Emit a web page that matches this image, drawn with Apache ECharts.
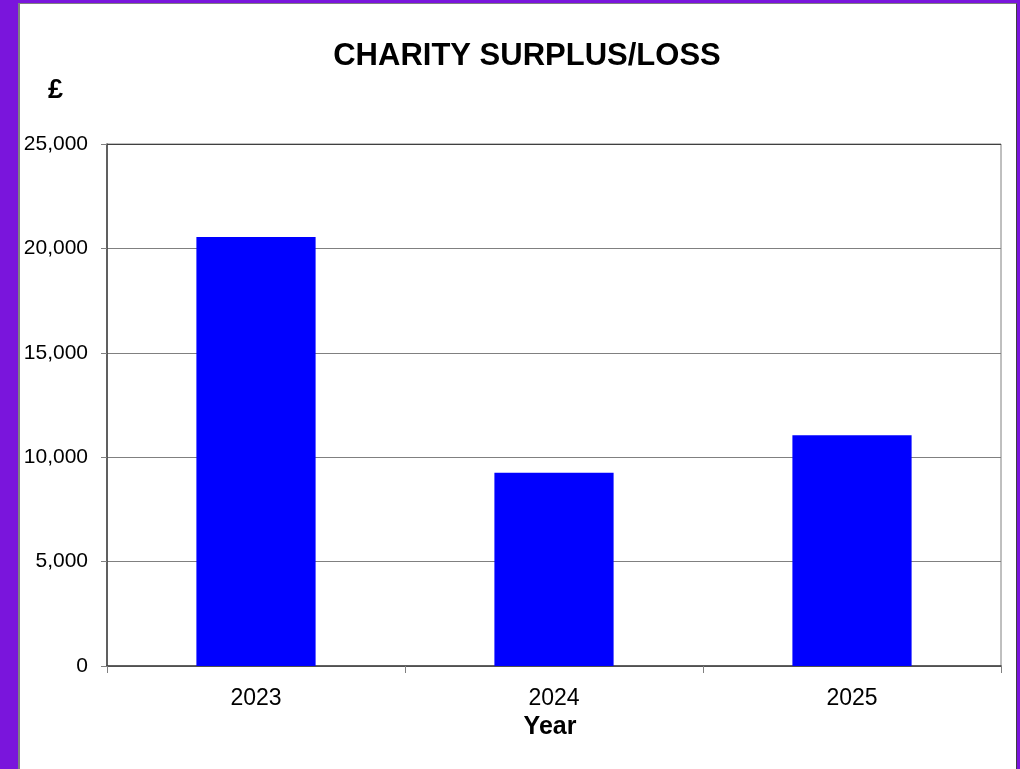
<!DOCTYPE html>
<html>
<head>
<meta charset="utf-8">
<script src="https://cdn.jsdelivr.net/npm/echarts@6/dist/echarts.min.js"></script>
<style>
html,body{margin:0;padding:0;width:1020px;height:769px;overflow:hidden;background:#7a15dc;}
#panel{position:absolute;left:18px;top:3px;width:996px;height:780px;background:#fff;border-left:2px solid #808080;border-top:1px solid #808080;border-right:1px solid #404040;}
#chart{position:absolute;left:0;top:0;width:1020px;height:769px;}
</style>
</head>
<body>
<div id="panel"></div>
<div id="chart"></div>
<script>
const categories = ['2023', '2024', '2025'];
const surplus = [20550, 9250, 11050];
const yTicks = [0, 5000, 10000, 15000, 20000, 25000];

const chart = echarts.init(document.getElementById('chart'));
const font = '"Liberation Sans", Arial, sans-serif';
chart.setOption({
  backgroundColor: 'transparent',
  animation: false,
  title: {
    text: 'CHARITY SURPLUS/LOSS',
    left: 522, top: 36, textAlign: 'center',
    textStyle: {fontFamily: font, fontSize: 31, fontWeight: 'bold', color: '#000'}
  },
  graphic: [{
    type: 'text', left: 48, top: 77,
    style: {text: '£', font: 'bold 27px "Liberation Sans", Arial, sans-serif', fill: '#000'}
  }],
  grid: {left: 107, top: 144, right: 19, bottom: 103, show: true, borderColor: '#808080', borderWidth: 1},
  xAxis: {
    type: 'category', data: categories,
    name: 'Year', nameLocation: 'middle', nameGap: 44,
    nameTextStyle: {fontFamily: font, fontSize: 25, fontWeight: 'bold', color: '#000', padding: [0, 8, 0, 0]},
    axisLine: {lineStyle: {color: '#404040', width: 1.5}},
    axisTick: {show: true, length: 7, lineStyle: {color: '#808080'}},
    axisLabel: {margin: 21, fontFamily: font, fontSize: 23, color: '#000'}
  },
  yAxis: {
    type: 'value', min: yTicks[0], max: yTicks[yTicks.length - 1], interval: 5000,
    axisLine: {show: true, lineStyle: {color: '#404040', width: 1.5}},
    axisTick: {show: true, length: 6, lineStyle: {color: '#808080'}},
    axisLabel: {margin: 19, fontFamily: font, fontSize: 21, color: '#000',
      formatter: v => v.toLocaleString('en-GB')},
    splitLine: {show: true, lineStyle: {color: ['#808080','#808080','#808080','#808080','#808080','#404040'], width: 1}}
  },
  series: [{
    type: 'bar', data: surplus, barWidth: '40%',
    itemStyle: {color: '#0000ff'}
  }]
});
</script>
</body>
</html>
